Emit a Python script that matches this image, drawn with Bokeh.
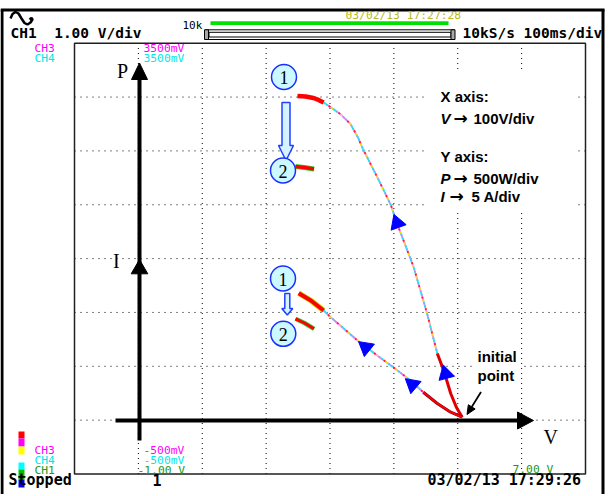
import numpy as np
from bokeh.plotting import figure
from bokeh.models import Range1d
from bokeh.core.properties import value
from bokeh.embed import file_html
from bokeh.resources import INLINE

# ---------------- data ----------------
# P-V trace: from operating point 1 (top left) down to the initial point
pv_v = [249, 262, 274, 282, 290, 301, 316, 332, 343, 352, 374, 395, 405, 431, 452, 468, 478, 489, 498, 507]
pv_p = [3010, 3005, 2991, 2973, 2949, 2906, 2843, 2750, 2634, 2513, 2256, 2002, 1826, 1420, 990, 619, 461, 247, 117, 27]
# I-V trace (amps)
iv_v = [251, 270, 290, 301, 316, 343, 374, 399, 426, 446, 468, 489, 507]
iv_i = [11.79, 11.11, 10.18, 9.56, 8.79, 7.40, 6.00, 4.92, 3.68, 2.59, 1.55, 0.74, 0.27]
# operating point 2 fragments
p2_v = [246, 260, 275]
p2_p = [2355, 2346, 2332]
i2_v = [246, 260, 275]
i2_i = [9.41, 9.02, 8.48]
# direction arrows on the traces (position, rotation in degrees)
arr_p_v = [405, 481]
arr_p_p = [1830, 430]
arr_p_ang = [20, 15]
arr_i_v = [356, 429]
arr_i_i = [6.75, 3.3]
arr_i_ang = [51, 50]

# scope settings
V_MIN, V_MAX = -100, 700      # CH1  -1.00 V .. 7.00 V  (100 V/div)
P_MIN, P_MAX = -500, 3500     # CH3  -500mV .. 3500mV   (500 W/div)
W_PER_A = 100                 # 5 A/div on the same grid
v_grid = [0, 100, 200, 300, 400, 500, 600]
p_grid = [0, 500, 1000, 1500, 2000, 2500, 3000]

# ---------------- geometry ----------------
BOX_L, BOX_R, BOX_T, BOX_B = 74, 585, 42.7, 473.5
OFF = 0
W, H = 609, 494


def lin(a0, a1, b0, b1, x):
    return b0 + (x - a0) * (b1 - b0) / (a1 - a0)


x0 = lin(BOX_L, BOX_R, V_MIN, V_MAX, OFF)
x1 = lin(BOX_L, BOX_R, V_MIN, V_MAX, OFF + W)
yb = lin(BOX_T, BOX_B, P_MAX, P_MIN, OFF + H)
yt = lin(BOX_T, BOX_B, P_MAX, P_MIN, OFF)

p = figure(width=W, height=H, x_range=Range1d(x0, x1), y_range=Range1d(yb, yt),
           output_backend="svg", toolbar_location=None, min_border=0,
           x_axis_type=None, y_axis_type=None, title=None,
           outline_line_color=None, background_fill_color="white",
           border_fill_color="white")
p.extra_x_ranges = {"px": Range1d(OFF, OFF + W)}
p.extra_y_ranges = {"py": Range1d(OFF + H, OFF),
                    "amp": Range1d(yb / W_PER_A, yt / W_PER_A)}
S = dict(x_range_name="px", y_range_name="py")


def ptext(xs, ys, texts, color="black", size="11px", font="DejaVu Sans Mono",
          style="normal", align="left", dy=0.0):
    p.text(x=xs, y=[y + dy for y in ys], text=texts, text_color=color,
           text_font=value(font), text_font_size=value(size),
           text_font_style=style, text_align=align, text_baseline="alphabetic", **S)


# ---------------- grid ----------------
p.segment(x0=v_grid, y0=P_MIN, x1=v_grid, y1=P_MAX, line_color="black",
          line_width=1, line_dash="1 4")
p.segment(x0=V_MIN, y0=p_grid, x1=V_MAX, y1=p_grid, line_color="black",
          line_width=1, line_dash="1 5")
p.quad(left=V_MIN, right=V_MAX, bottom=P_MIN, top=P_MAX, fill_color=None,
       line_color="#202020", line_width=1.5)

# white boxes behind pasted notes
p.quad(left=[425, 474], right=[577, 520], top=[72, 349], bottom=[212, 388],
       fill_color="white", line_color=None, **S)

# ---------------- drawn axes ----------------
p.segment(x0=[115, 139], y0=[420, 440], x1=[518, 139], y1=[420, 78],
          line_color="black", line_width=4, **S)
p.patches(xs=[[517, 533, 517], [131, 139, 147], [130.7, 139, 147.3]],
          ys=[[411.5, 420, 428.5], [79, 62.5, 79], [273.3, 259, 273.3]],
          fill_color="black", line_color="black", **S)
ptext([116.5, 112.5, 543], [77, 267, 443], ["P", "I", "V"],
      size="20px", font="Liberation Serif", dy=-7)


# ---------------- traces ----------------
def speckled(xs, ys, yname):
    p.line(xs, ys, line_color="#ff80ff", line_width=1.8, y_range_name=yname)
    for col, off in [("#00f0f0", 0), ("#e8e800", 3), ("#ff2020", 6), ("#00f0f0", 9)]:
        p.line(xs, ys, line_color=col, line_width=1.8, line_dash="2 10",
               line_dash_offset=off, y_range_name=yname)


speckled(pv_v[4:16], pv_p[4:16], "default")
speckled(iv_v[2:10], iv_i[2:10], "amp")
p.line(pv_v[15:], pv_p[15:], line_color="#e00000", line_width=3)
p.line(iv_v[9:], iv_i[9:], line_color="#700020", line_width=3, y_range_name="amp")
p.line(iv_v[9:], iv_i[9:], line_color="#ff0000", line_width=2, y_range_name="amp")
p.line(pv_v[:5], pv_p[:5], line_color="#ff0000", line_width=4.5)
p.line(iv_v[:3], iv_i[:3], line_color="#c0e000", line_width=5.5, y_range_name="amp")
p.line(iv_v[:3], iv_i[:3], line_color="#ff0000", line_width=4, y_range_name="amp")
p.line(p2_v, p2_p, line_color="#30d030", line_width=5)
p.line(p2_v, p2_p, line_color="#ff0000", line_width=3.5)
p.line(i2_v, i2_i, line_color="#30d030", line_width=4.5, y_range_name="amp")
p.line(i2_v, i2_i, line_color="#ff0000", line_width=3, y_range_name="amp")

p.scatter(arr_p_v, arr_p_p, marker="triangle", size=16,
          angle=np.radians(arr_p_ang), fill_color="#0000ff", line_color="#0000ff")
p.scatter(arr_i_v, arr_i_i, marker="triangle", size=16,
          angle=np.radians(arr_i_ang), fill_color="#0000ff", line_color="#0000ff",
          y_range_name="amp")

# ---------------- annotations ----------------
p.patches(xs=[[281.5, 289.5, 289.5, 293, 285.5, 278, 281.5],
              [284.3, 289.3, 289.3, 292.3, 286.8, 281.3, 284.3]],
          ys=[[102, 102, 145, 145, 160, 145, 145],
              [293, 293, 308, 308, 314.5, 308, 308]],
          fill_color="#d4f2ff", line_color="#2040ff", line_width=1.5, **S)
cx = [283.5, 282.5, 282.5, 282.8]
cy = [76.5, 170, 278, 333.3]
p.scatter(cx, cy, marker="circle", size=25, fill_color="#ccf8ff",
          line_color="#1830ff", line_width=1.5, **S)
ptext(cx, [c + 6.5 for c in cy], ["1", "2", "1", "2"], size="18px",
      font="Liberation Serif", align="center", dy=-6)

F = "Liberation Sans"
ptext([440, 440], [101.7, 161.7], ["X axis:", "Y axis:"], size="15px", font=F,
      style="bold", dy=-5.5)
ptext([440, 440, 440], [123.3, 183, 201.5], ["V", "P", "I"], size="15px", font=F,
      style="bold italic", dy=-5.5)
ptext([453, 453, 449], [123.3, 183, 201.5], ["\u2192", "\u2192", "\u2192"], size="17px",
      font="DejaVu Sans", style="bold", dy=-6)
ptext([473, 473, 471], [123.3, 183, 201.5], ["100V/div", "500W/div", "5 A/div"],
      size="15px", font=F, style="bold", dy=-5.5)
ptext([477, 477], [361.5, 380], ["initial", "point"], size="15px", font=F,
      style="bold", dy=-5.5)
# pointer to the initial point
tip = np.array([466.5, 414.0])
tail = np.array([480.5, 391.5])
d = (tip - tail) / np.hypot(*(tip - tail))
n = np.array([-d[1], d[0]])
base = tip - 9 * d
p.segment(x0=[tail[0]], y0=[tail[1]], x1=[base[0]], y1=[base[1]], line_color="black",
          line_width=1.8, **S)
p.patches(xs=[[tip[0], base[0] + 4 * n[0], base[0] - 4 * n[0]]],
          ys=[[tip[1], base[1] + 4 * n[1], base[1] - 4 * n[1]]],
          fill_color="black", line_color="black", **S)

# ---------------- scope screen chrome ----------------
p.segment(x0=[0, 602.5, 1.5], y0=[9.5, 9, 9], x1=[604, 602.5, 1.5], y1=[9.5, 496, 496],
          line_color="black", line_width=3, **S)
p.line([10, 12, 15, 18, 21, 24, 27, 30, 32, 31, 29],
       [18, 13.5, 11.5, 13, 18, 22.5, 24, 22, 19, 17.5, 19],
       line_color="black", line_width=2.5, **S)
ptext([345], [16.7], ["03/02/13 17:27:28"], color="#b8b81c", size="11.3px", dy=-2)
ptext([182], [26.7], ["10k"], size="11px", dy=-2)
p.quad(left=[210], right=[448], top=[20.7], bottom=[24.5], fill_color="#00e000",
       line_color=None, **S)
p.quad(left=[205, 208.5], right=[454, 450.5], top=[29.3, 31.8], bottom=[39, 36.5],
       fill_color="white", line_color="black", line_width=1, **S)
p.quad(left=[204, 450.5], right=[208, 454.5], top=[29.3, 29.3], bottom=[39, 39],
       fill_color="#a8a8a8", line_color="black", line_width=1, **S)
ptext([10], [37.3], ["CH1\u00a0\u00a01.00\u00a0V/div"], size="14.5px", style="bold", dy=-4.5)
ptext([462], [37.3], ["10kS/s\u00a0100ms/div"], size="14.5px", style="bold", dy=-4.5)

ptext([34, 34, 143, 143], [50, 60, 50, 60], ["CH3", "CH4", "3500mV", "3500mV"],
      color=["#ff00ff", "#00e8e8", "#ff00ff", "#00e8e8"], size="11.3px", dy=-2)
ptext([34, 34, 34, 143, 143, 137, 512], [452.7, 462.7, 472.7, 452.7, 462.7, 472.7, 471.5],
      ["CH3", "CH4", "CH1", "-500mV", "-500mV", "-1.00\u00a0V", "7.00\u00a0V"],
      color=["#ff00ff", "#00e8e8", "#1a9a1a", "#ff00ff", "#00e8e8", "#1a9a1a", "#1a9a1a"],
      size="11.3px", dy=-2.5)
p.quad(left=18, right=24,
       top=[431, 438, 446, 462, 469, 479],
       bottom=[438, 446, 454, 469, 479, 487],
       fill_color=["#ff0000", "#ff00ff", "#ffff00", "#00ffff", "#00c000", "#0000ff"],
       line_color=None, **S)
ptext([8, 152, 427], [484, 484, 484.3], ["Stopped", "1", "03/02/13\u00a017:29:26"],
      size="15px", style="bold", dy=-4.5)

open("out.html", "w").write(file_html(p, INLINE))
